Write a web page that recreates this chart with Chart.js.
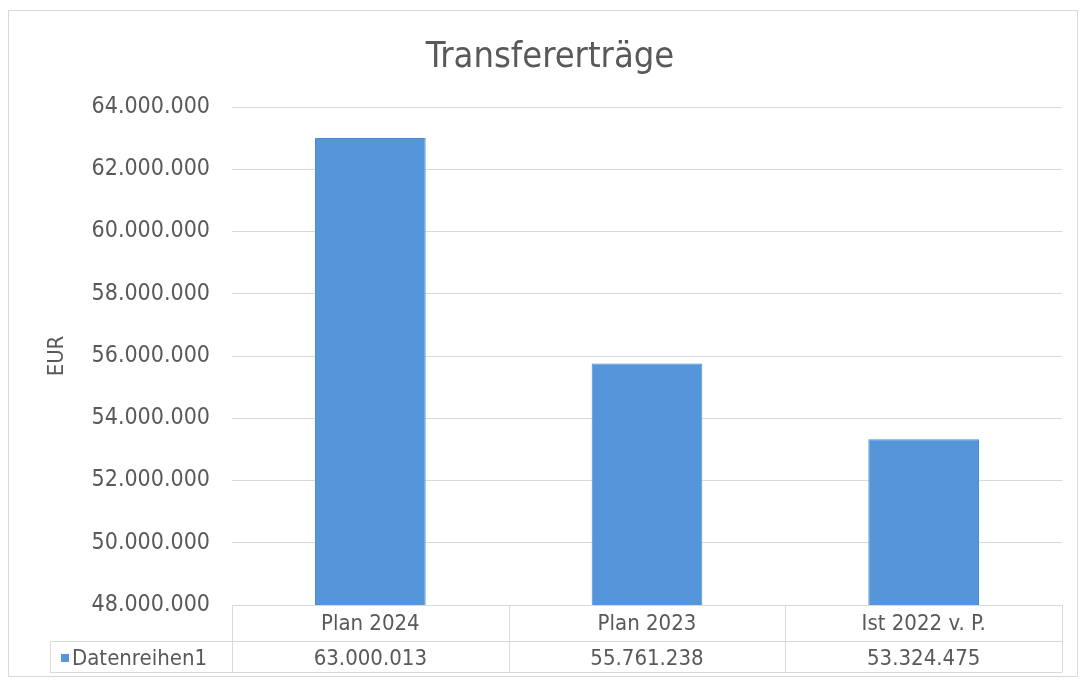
<!DOCTYPE html>
<html>
<head>
<meta charset="utf-8">
<script src="https://cdn.jsdelivr.net/npm/chart.js@4"></script>
<style>
  html, body { margin: 0; padding: 0; background: #fff; }
  canvas { display: block; }
</style>
</head>
<body>
<canvas id="transferChart" width="1080" height="684"></canvas>
<script>
const categories = ['Plan 2024', 'Plan 2023', 'Ist 2022 v. P.'];
const values = [63000013, 55761238, 53324475];
const seriesName = 'Datenreihen1';
const chartTitle = 'Transfererträge';
const yTicks = [48000000, 50000000, 52000000, 54000000, 56000000, 58000000, 60000000, 62000000, 64000000];

const textColor = '#595959';
const lineColor = '#d9d9d9';
const barColor = '#5595d9';
const fontFamily = '"DejaVu Sans Condensed", "DejaVu Sans", sans-serif';

// German number format: 63.000.013
function fmt(n) {
    return String(Math.round(n)).replace(/\B(?=(\d{3})+(?!\d))/g, '.');
}

// Excel-like frame, title and data table below the plot
const tablePlugin = {
    id: 'dataTable',
    beforeDraw(chart) {
        const c = chart.ctx;
        c.save();
        c.strokeStyle = lineColor;
        c.lineWidth = 1;
        c.strokeRect(8.5, 10.5, 1069, 666);
        c.fillStyle = textColor;
        c.font = '36px ' + fontFamily;
        c.textAlign = 'center';
        c.textBaseline = 'alphabetic';
        c.fillText(chartTitle, 550, 67);
        c.restore();
    },
    afterDraw(chart) {
        const c = chart.ctx;
        const x = chart.scales.x;
        const area = chart.chartArea;
        const top = area.bottom;
        const mid = top + 36;
        const bottom = top + 67;
        const legendLeft = 50;
        const step = x.getPixelForValue(1) - x.getPixelForValue(0);

        c.save();
        c.strokeStyle = lineColor;
        c.lineWidth = 1;
        c.beginPath();
        c.moveTo(area.left, top + 0.5); c.lineTo(area.right, top + 0.5);
        c.moveTo(legendLeft, mid + 0.5); c.lineTo(area.right, mid + 0.5);
        c.moveTo(legendLeft, bottom + 0.5); c.lineTo(area.right, bottom + 0.5);
        c.moveTo(legendLeft + 0.5, mid); c.lineTo(legendLeft + 0.5, bottom);
        for (let i = 0; i <= categories.length; i++) {
            const px = Math.round(x.getPixelForValue(0) - step / 2 + i * step) + 0.5;
            c.moveTo(px, top); c.lineTo(px, bottom);
        }
        c.stroke();

        c.fillStyle = textColor;
        c.font = '22px ' + fontFamily;
        c.textAlign = 'center';
        c.textBaseline = 'alphabetic';
        categories.forEach((cat, i) => {
            const px = x.getPixelForValue(i);
            c.fillText(cat, px, top + 25);
            c.fillText(fmt(values[i]), px, mid + 24);
        });

        c.fillStyle = barColor;
        c.fillRect(legendLeft + 11, mid + 13, 8, 8);
        c.fillStyle = textColor;
        c.textAlign = 'left';
        c.fillText(seriesName, legendLeft + 22, mid + 24);
        c.restore();
    }
};

const ctx = document.getElementById('transferChart').getContext('2d');
const chart = new Chart(ctx, {
    type: 'bar',
    data: {
        labels: categories,
        datasets: [{
            label: seriesName,
            data: values,
            backgroundColor: barColor,
            borderColor: '#4d8cd0',
            borderWidth: 1,
            categoryPercentage: 1,
            barPercentage: 0.4
        }]
    },
    options: {
        responsive: false,
        animation: false,
        layout: { padding: { left: 0, right: 18, top: 107, bottom: 12 } },
        plugins: {
            legend: { display: false },
            tooltip: { enabled: false },
            title: { display: false }
        },
        scales: {
            x: {
                grid: { display: false },
                border: { display: false },
                ticks: { display: false },
                afterFit(scale) { scale.height = 67; }
            },
            y: {
                min: yTicks[0],
                max: yTicks[yTicks.length - 1],
                afterBuildTicks(scale) { scale.ticks = yTicks.map(v => ({ value: v })); },
                grid: { color: lineColor, drawTicks: false },
                border: { display: false },
                ticks: {
                    color: textColor,
                    padding: 22,
                    font: { family: fontFamily, size: 23 },
                    callback: v => fmt(v)
                },
                title: {
                    display: true,
                    text: 'EUR',
                    color: textColor,
                    font: { family: fontFamily, size: 22 },
                    padding: { top: 44, bottom: 0 }
                },
                afterFit(scale) { scale.width = 232; }
            }
        }
    },
    plugins: [tablePlugin]
});
</script>
</body>
</html>
